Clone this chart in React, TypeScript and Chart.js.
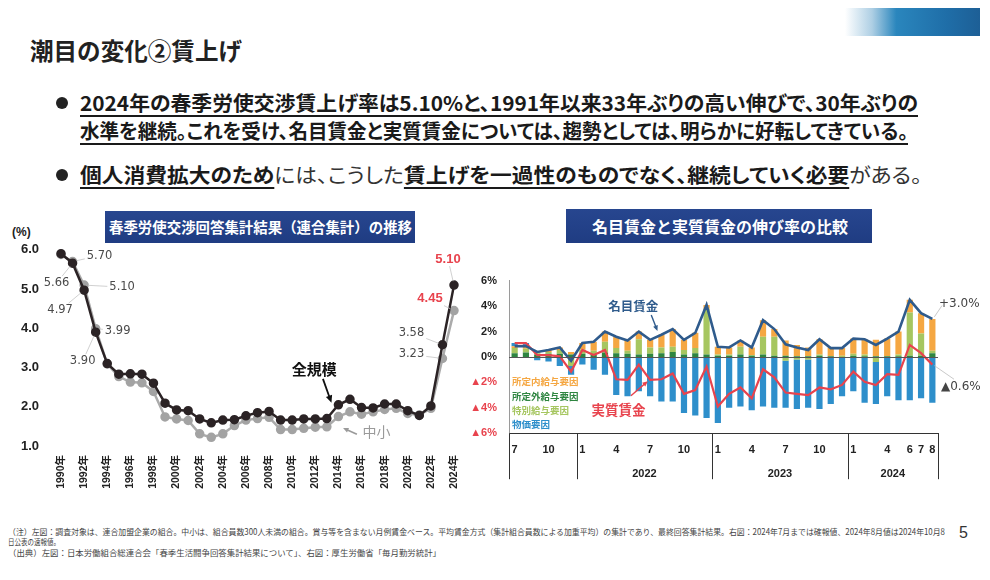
import React, { useEffect, useLayoutEffect, useRef } from 'react';
import { Chart, registerables } from 'chart.js';

Chart.register(...registerables);

const LATIN = '"Liberation Sans", "DejaVu Sans", "Noto Sans CJK JP", sans-serif';
const JP = '"Noto Sans CJK JP", "Noto Sans", sans-serif';
const DJ = '"DejaVu Sans", "Noto Sans CJK JP", sans-serif';
Chart.defaults.font.family = LATIN;

// ---------- Left chart data (春季労使交渉 賃上げ率, %) ----------
const years = [
  1990, 1991, 1992, 1993, 1994, 1995, 1996, 1997, 1998, 1999,
  2000, 2001, 2002, 2003, 2004, 2005, 2006, 2007, 2008, 2009,
  2010, 2011, 2012, 2013, 2014, 2015, 2016, 2017, 2018, 2019,
  2020, 2021, 2022, 2023, 2024,
];
const allSizeRates = [
  5.9, 5.66, 4.97, 3.9, 3.1, 2.83, 2.84, 2.83, 2.6, 2.09,
  1.92, 1.9, 1.69, 1.59, 1.66, 1.67, 1.77, 1.85, 1.88, 1.66,
  1.66, 1.69, 1.69, 1.7, 2.05, 2.19, 1.98, 1.97, 2.07, 2.07,
  1.9, 1.78, 2.02, 3.58, 5.1,
];
const smeRates = [
  5.88, 5.7, 5.1, 3.99, 3.09, 2.77, 2.63, 2.61, 2.39, 1.74,
  1.69, 1.65, 1.31, 1.22, 1.31, 1.52, 1.66, 1.7, 1.73, 1.42,
  1.42, 1.45, 1.48, 1.49, 1.75, 1.87, 1.81, 1.87, 1.93, 1.96,
  1.83, 1.79, 1.96, 3.23, 4.45,
];

// ---------- Right chart data (前年同月比, %) ----------
const months = [
  '2021/7', '2021/8', '2021/9', '2021/10', '2021/11', '2021/12',
  '2022/1', '2022/2', '2022/3', '2022/4', '2022/5', '2022/6',
  '2022/7', '2022/8', '2022/9', '2022/10', '2022/11', '2022/12',
  '2023/1', '2023/2', '2023/3', '2023/4', '2023/5', '2023/6',
  '2023/7', '2023/8', '2023/9', '2023/10', '2023/11', '2023/12',
  '2024/1', '2024/2', '2024/3', '2024/4', '2024/5', '2024/6',
  '2024/7', '2024/8',
];
const monthTickLabels = [
  '7', '', '', '10', '', '',
  '1', '', '', '4', '', '', '7', '', '', '10', '', '',
  '1', '', '', '4', '', '', '7', '', '', '10', '', '',
  '1', '', '', '4', '', '6', '7', '8',
];
const yearLabels = ['', '2022', '2023', '2024'];
const nominalWage = [
  0.85, 0.85, 0.4, 0.55, 0.75, -0.3, 1.1, 1.2, 2.0, 1.6, 1.3, 2.0,
  1.35, 1.75, 2.2, 1.35, 1.9, 4.1, 0.8, 0.75, 1.3, 0.75, 2.9, 2.2,
  1.0, 0.75, 0.55, 1.4, 0.7, 0.7, 1.45, 1.4, 0.95, 1.45, 2.0, 4.5,
  3.45, 3.0,
];
const realWage = [
  1.1, 1.1, 0.15, 0.15, 0.05, -1.15, 0.55, 0.15, 0.55, -1.75, -1.8, -0.6,
  -1.8, -1.75, -1.3, -2.9, -2.6, -0.75, -3.9, -2.9, -2.4, -3.25, -0.97, -1.6,
  -2.8, -2.9, -3.0, -2.4, -2.55, -2.2, -1.15, -1.95, -2.2, -1.35, -1.4, 0.95,
  0.3, -0.6,
];
const scheduledFactor = [
  0.15, 0.2, 0.1, 0.15, 0.2, 0.2, 0.5, 0.7, 0.8, 0.9, 0.8, 0.6,
  0.6, 1.0, 1.4, 0.8, 1.2, 0.3, 0.6, 0.55, 0.5, 0.6, 1.3, 0.6,
  1.2, 0.9, 0.7, 1.2, 0.7, 0.6, 1.2, 1.2, 1.3, 1.4, 1.8, 1.0,
  1.6, 2.5,
];
const overtimeFactor = [
  0.3, 0.35, 0.2, 0.25, 0.25, 0.2, 0.25, 0.2, 0.35, 0.3, 0.25, 0.2,
  0.25, 0.3, 0.4, 0.2, 0.3, 0.2, 0.1, 0.1, 0.2, 0.1, 0.2, 0.1,
  0.1, 0.05, 0.05, 0.1, 0.05, 0.0, 0.1, 0.05, 0.05, 0.05, 0.05, 0.1,
  0.1, 0.3,
];
const specialFactor = [
  0.4, 0.3, 0.1, 0.15, 0.3, -0.7, 0.35, 0.3, 0.85, 0.4, 0.25, 1.2,
  0.5, 0.45, 0.4, 0.35, 0.4, 3.6, 0.1, 0.1, 0.6, 0.05, 1.4, 1.5,
  -0.3, -0.2, -0.2, 0.1, -0.05, 0.1, 0.15, 0.15, -0.4, 0.0, 0.15, 3.4,
  1.75, 0.2,
];
const priceFactor = [
  0.25, 0.25, -0.25, -0.35, -0.7, -0.7, -0.6, -1.0, -1.4, -3.0, -3.1, -2.7,
  -3.1, -3.5, -3.5, -4.4, -4.6, -4.8, -5.2, -4.0, -3.9, -4.2, -3.9, -4.0,
  -3.7, -3.9, -3.8, -4.1, -3.65, -3.1, -2.7, -3.6, -3.3, -3.1, -3.4, -3.4,
  -3.25, -3.6,
];

const C_ORANGE = '#F5A742';
const C_DKGREEN = '#2E8540';
const C_LTGREEN = '#A6C660';
const C_BLUE = '#2E8FCB';
const C_NOMINAL = '#2F5B8C';
const C_REAL = '#E8434D';

function drawArrow(ctx: CanvasRenderingContext2D, x1: number, y1: number, x2: number, y2: number, color: string, width = 1.6, head = 7) {
  const ang = Math.atan2(y2 - y1, x2 - x1);
  ctx.save();
  ctx.strokeStyle = color;
  ctx.fillStyle = color;
  ctx.lineWidth = width;
  ctx.beginPath();
  ctx.moveTo(x1, y1);
  ctx.lineTo(x2 - Math.cos(ang) * head * 0.7, y2 - Math.sin(ang) * head * 0.7);
  ctx.stroke();
  ctx.beginPath();
  ctx.moveTo(x2, y2);
  ctx.lineTo(x2 - head * Math.cos(ang - 0.42), y2 - head * Math.sin(ang - 0.42));
  ctx.lineTo(x2 - head * Math.cos(ang + 0.42), y2 - head * Math.sin(ang + 0.42));
  ctx.closePath();
  ctx.fill();
  ctx.restore();
}

const leftValueLabels = [
  { series: 'sme', year: 1991, dx: 27, dy: -6, red: false },
  { series: 'all', year: 1991, dx: -16, dy: 20, red: false },
  { series: 'sme', year: 1992, dx: 38, dy: 2, red: false },
  { series: 'all', year: 1992, dx: -24, dy: 20, red: false },
  { series: 'sme', year: 1993, dx: 22, dy: 2, red: false },
  { series: 'all', year: 1993, dx: -13, dy: 29, red: false },
  { series: 'all', year: 2023, dx: -31, dy: -12, red: false },
  { series: 'sme', year: 2023, dx: -31, dy: -4, red: false },
  { series: 'all', year: 2024, dx: -6, dy: -26, red: true },
  { series: 'sme', year: 2024, dx: -24, dy: -12, red: true },
];

function LeftChart() {
  const ref = useRef<HTMLCanvasElement>(null);
  useEffect(() => {
    const series: Record<string, number[]> = { all: allSizeRates, sme: smeRates };
    const anno = {
      id: 'leftAnno',
      afterDatasetsDraw(chart: any) {
        const { ctx, scales } = chart;
        const x = scales.x, y = scales.y;
        ctx.save();
        for (const lb of leftValueLabels) {
          const i = years.indexOf(lb.year);
          const v = series[lb.series][i];
          const px = x.getPixelForValue(lb.year), py = y.getPixelForValue(v);
          const cx = px + lb.dx, cy = py + lb.dy;
          const text = v.toFixed(2);
          ctx.font = lb.red ? `bold 13px ${LATIN}` : `11.5px ${DJ}`;
          const w = ctx.measureText(text).width;
          const hw = w / 2 + 2, hh = 7;
          const ddx = px - cx, ddy = py - cy;
          const len = Math.hypot(ddx, ddy);
          const t = Math.min(Math.abs(ddx) > 0.01 ? hw / Math.abs(ddx) : 99, Math.abs(ddy) > 0.01 ? hh / Math.abs(ddy) : 99);
          if (t < 1) {
            ctx.strokeStyle = '#c4c4c4';
            ctx.lineWidth = 0.8;
            ctx.beginPath();
            ctx.moveTo(cx + ddx * t, cy + ddy * t);
            ctx.lineTo(px - (ddx / len) * 4, py - (ddy / len) * 4);
            ctx.stroke();
          }
          ctx.fillStyle = lb.red ? '#E8434D' : '#4a4a4a';
          ctx.textAlign = 'center';
          ctx.textBaseline = 'middle';
          ctx.fillText(text, cx, cy);
        }
        // 全規模
        ctx.font = `bold 15px ${JP}`;
        ctx.fillStyle = '#111';
        ctx.textAlign = 'center';
        ctx.textBaseline = 'middle';
        ctx.fillText('全規模', x.getPixelForValue(2011.9), y.getPixelForValue(2.96));
        drawArrow(ctx, x.getPixelForValue(2012.66), y.getPixelForValue(2.71), x.getPixelForValue(2013.4), y.getPixelForValue(2.1), '#111', 1.8, 8);
        // 中小
        ctx.font = `14px ${JP}`;
        ctx.fillStyle = '#9a9a9a';
        ctx.fillText('中小', x.getPixelForValue(2017.3), y.getPixelForValue(1.36));
        drawArrow(ctx, x.getPixelForValue(2015.6), y.getPixelForValue(1.3), x.getPixelForValue(2014.4), y.getPixelForValue(1.46), '#9a9a9a', 1.6, 6);
        ctx.restore();
      },
    };
    const chart = new Chart(ref.current!, {
      type: 'line',
      data: {
        datasets: [
          {
            label: '全規模',
            data: years.map((yr, i) => ({ x: yr, y: allSizeRates[i] })),
            borderColor: '#2b2325',
            backgroundColor: '#2b2325',
            pointBackgroundColor: '#2b2325',
            pointBorderColor: '#2b2325',
            borderWidth: 2.5,
            pointRadius: 3.5,
            tension: 0,
            clip: 10,
          } as any,
          {
            label: '中小',
            data: years.map((yr, i) => ({ x: yr, y: smeRates[i] })),
            borderColor: '#ababab',
            backgroundColor: '#a3a3a3',
            pointBackgroundColor: '#a3a3a3',
            pointBorderColor: '#a3a3a3',
            borderWidth: 2.5,
            pointRadius: 3.5,
            tension: 0,
            clip: 10,
          } as any,
        ],
      },
      options: {
        responsive: false,
        animation: false,
        layout: { padding: { left: 0, right: 22, top: 0, bottom: 0 } },
        plugins: { legend: { display: false }, tooltip: { enabled: false } },
        scales: {
          x: {
            type: 'linear',
            min: 1990,
            max: 2024,
            grid: { display: false, drawTicks: false },
            border: { display: false },
            ticks: {
              stepSize: 2,
              autoSkip: false,
              minRotation: 90,
              maxRotation: 90,
              padding: 9,
              color: '#222',
              font: { size: 10.5, weight: 'bold' },
              callback: (v: any) => `${v}年`,
            },
            afterFit: (s: any) => { s.height = 64; },
          },
          y: {
            min: 1,
            max: 6,
            grid: { display: false, drawTicks: false },
            border: { display: false },
            ticks: {
              stepSize: 1,
              padding: 22,
              color: '#222',
              font: { size: 13, weight: 'bold' },
              callback: (v: any) => Number(v).toFixed(1),
            },
            afterFit: (s: any) => { s.width = 61; },
          },
        },
      } as any,
      plugins: [anno],
    });
    return () => chart.destroy();
  }, []);
  return (
    <canvas ref={ref} width={476} height={290}
      style={{ position: 'absolute', left: 0, top: 220, width: 476, height: 290 }} />
  );
}

function RightChart() {
  const ref = useRef<HTMLCanvasElement>(null);
  useEffect(() => {
    const anno = {
      id: 'rightAnno',
      afterDatasetsDraw(chart: any) {
        const { ctx, chartArea, scales } = chart;
        const x = scales.x, y = scales.y;
        ctx.save();
        // zero line
        const y0 = Math.round(y.getPixelForValue(0)) + 0.5;
        ctx.strokeStyle = '#555';
        ctx.lineWidth = 1;
        ctx.beginPath();
        ctx.moveTo(chartArea.left, y0);
        ctx.lineTo(chartArea.right, y0);
        ctx.stroke();

        // year groups
        const groups: { s: number; e: number }[] = [];
        months.forEach((m, i) => {
          const yr = m.split('/')[0];
          if (i === 0 || months[i - 1].split('/')[0] !== yr) groups.push({ s: i, e: i });
          else groups[groups.length - 1].e = i;
        });
        const bottom = chartArea.bottom;
        ctx.strokeStyle = '#333';
        ctx.lineWidth = 1;
        const bounds: number[] = [];
        groups.forEach((g, gi) => {
          const l = g.s === 0 ? chartArea.left : (x.getPixelForValue(g.s - 1) + x.getPixelForValue(g.s)) / 2;
          const r = g.e === months.length - 1 ? chartArea.right : (x.getPixelForValue(g.e) + x.getPixelForValue(g.e + 1)) / 2;
          bounds.push(l);
          if (gi === groups.length - 1) bounds.push(r);
          ctx.fillStyle = '#222';
          ctx.font = `bold 11px ${LATIN}`;
          ctx.textAlign = 'center';
          ctx.textBaseline = 'middle';
          ctx.fillText(yearLabels[gi] || '', (l + r) / 2, bottom + 41);
        });
        bounds.forEach((b) => {
          const bx = Math.round(b) + 0.5;
          ctx.beginPath();
          ctx.moveTo(bx, bottom);
          ctx.lineTo(bx, bottom + 46);
          ctx.stroke();
        });

        // series annotations
        ctx.textAlign = 'center';
        ctx.textBaseline = 'middle';
        ctx.font = `bold 12.5px ${JP}`;
        ctx.fillStyle = C_NOMINAL;
        ctx.fillText('名目賃金', x.getPixelForValue(10.5), y.getPixelForValue(4.0));
        drawArrow(ctx, x.getPixelForValue(12.1), y.getPixelForValue(3.3), x.getPixelForValue(12.65), y.getPixelForValue(2.05), C_NOMINAL, 1.4, 6);
        ctx.font = `bold 13.5px ${JP}`;
        ctx.fillStyle = C_REAL;
        ctx.fillText('実質賃金', x.getPixelForValue(9.2), y.getPixelForValue(-4.15));
        drawArrow(ctx, x.getPixelForValue(10.3), y.getPixelForValue(-3.05), x.getPixelForValue(11.8), y.getPixelForValue(-1.9), C_REAL, 1.4, 6);

        // legend texts
        const legendItems = [
          { t: '所定内給与要因', c: C_ORANGE, v: -1.95 },
          { t: '所定外給与要因', c: C_DKGREEN, v: -3.1 },
          { t: '特別給与要因', c: C_LTGREEN, v: -4.2 },
          { t: '物価要因', c: C_BLUE, v: -5.3 },
        ];
        ctx.textAlign = 'left';
        ctx.font = `bold 9.5px ${JP}`;
        legendItems.forEach((it) => {
          ctx.fillStyle = it.c;
          ctx.fillText(it.t, chartArea.left + 3, y.getPixelForValue(it.v));
        });

        // end labels
        const last = months.length - 1;
        const lx = x.getPixelForValue(last);
        ctx.strokeStyle = '#bbbbbb';
        ctx.lineWidth = 0.8;
        ctx.beginPath();
        ctx.moveTo(lx + 2, y.getPixelForValue(nominalWage[last]) - 2);
        ctx.lineTo(chartArea.right + 4, y.getPixelForValue(4.05));
        ctx.moveTo(lx + 2, y.getPixelForValue(realWage[last]) + 1);
        ctx.lineTo(chartArea.right + 16, y.getPixelForValue(-1.75));
        ctx.stroke();
        ctx.font = `12px ${DJ}`;
        ctx.fillStyle = '#444';
        ctx.textBaseline = 'middle';
        ctx.fillText(`+${nominalWage[last].toFixed(1)}%`, chartArea.right + 1, y.getPixelForValue(4.2));
        ctx.fillText(`▲${Math.abs(realWage[last]).toFixed(1)}%`, chartArea.right + 3, y.getPixelForValue(-2.35));
        ctx.restore();
      },
    };
    const chart = new Chart(ref.current!, {
      type: 'bar',
      data: {
        labels: months,
        datasets: [
          { type: 'line', label: '名目賃金', data: nominalWage, borderColor: C_NOMINAL, backgroundColor: C_NOMINAL, borderWidth: 2.6, pointRadius: 0, tension: 0, order: 0, stack: 'nominal' } as any,
          { type: 'line', label: '実質賃金', data: realWage, borderColor: C_REAL, backgroundColor: C_REAL, borderWidth: 2.2, pointRadius: 0, tension: 0, order: 0, stack: 'real' } as any,
          { label: '所定外給与要因', data: overtimeFactor, backgroundColor: C_DKGREEN, order: 1, stack: 'bars', barPercentage: 0.55, categoryPercentage: 1 } as any,
          { label: '特別給与要因', data: specialFactor, backgroundColor: C_LTGREEN, order: 2, stack: 'bars', barPercentage: 0.55, categoryPercentage: 1 } as any,
          { label: '所定内給与要因', data: scheduledFactor, backgroundColor: C_ORANGE, order: 3, stack: 'bars', barPercentage: 0.55, categoryPercentage: 1 } as any,
          { label: '物価要因', data: priceFactor, backgroundColor: C_BLUE, order: 4, stack: 'bars', barPercentage: 0.55, categoryPercentage: 1 } as any,
        ],
      },
      options: {
        responsive: false,
        animation: false,
        layout: { padding: { left: 0, right: 52, top: 18.8, bottom: 0 } },
        plugins: { legend: { display: false }, tooltip: { enabled: false } },
        scales: {
          x: {
            stacked: true,
            offset: true,
            grid: { display: false, drawTicks: false },
            border: { display: true, color: '#333', width: 1 },
            ticks: {
              autoSkip: false,
              maxRotation: 0,
              minRotation: 0,
              padding: 10,
              color: '#222',
              font: { size: 11, weight: 'bold' },
              callback: (_v: any, i: number) => monthTickLabels[i],
            },
            afterFit: (s: any) => { s.height = 56.8; },
          },
          y: {
            stacked: true,
            min: -6,
            max: 6,
            grid: { display: false, drawTicks: false },
            border: { display: true, color: '#9a9a9a', width: 1 },
            ticks: {
              stepSize: 2,
              padding: 12,
              font: { size: 11, weight: 'bold' },
              color: (c: any) => (c.tick && c.tick.value < 0 ? '#E8434D' : '#222'),
              callback: (v: any) => (v > 0 ? `${v}%` : v < 0 ? `▲${-v}%` : '0%'),
            },
            afterFit: (s: any) => { s.width = 49; },
          },
        },
      } as any,
      plugins: [anno],
    });
    return () => chart.destroy();
  }, []);
  return (
    <canvas ref={ref} width={530} height={228}
      style={{ position: 'absolute', left: 460, top: 262, width: 530, height: 228 }} />
  );
}

function Fit({ x, y, w, h = 20, style, children }: any) {
  const ref = useRef<HTMLDivElement>(null);
  useLayoutEffect(() => {
    const el = ref.current;
    if (!el) return;
    const apply = () => {
      el.style.transform = 'none';
      const nat = el.getBoundingClientRect().width;
      if (nat > 0) el.style.transform = `scaleX(${w / nat})`;
    };
    apply();
    const f: any = (document as any).fonts;
    if (f && f.ready) f.ready.then(apply);
  }, [w]);
  return (
    <div ref={ref} style={{
      position: 'absolute', left: x, top: y - h / 2, height: h, lineHeight: `${h}px`,
      whiteSpace: 'nowrap', transformOrigin: '0 50%', ...style,
    }}>{children}</div>
  );
}

export default function App() {
  const bold = { fontWeight: 700, textDecoration: 'underline', textDecorationThickness: '2px', textUnderlineOffset: '4px', color: '#1a1a1a' } as any;
  const normal = { fontWeight: 400, color: '#333', textDecoration: 'none' } as any;
  const bodyFont = { fontFamily: JP, fontSize: 20, fontFeatureSettings: '"palt"' } as any;
  return (
    <div style={{ position: 'fixed', left: 0, top: 0, width: 990, height: 580, background: '#fff', overflow: 'hidden', fontFamily: JP, color: '#222' }}>
      <div style={{ position: 'absolute', left: 845, top: 8, width: 135, height: 28, background: 'linear-gradient(90deg, rgba(255,255,255,0) 0%, rgba(120,175,210,0.6) 20%, #2a86bd 38%, #1f6ea8 75%, #1d5f96 100%)' }} />
      <Fit x={30} y={50} w={212} h={30} style={{ fontSize: 24, fontWeight: 700, color: '#222' }}>潮目の変化②賃上げ</Fit>

      <div style={{ position: 'absolute', left: 56, top: 97, width: 12, height: 12, borderRadius: 6, background: '#222' }} />
      <Fit x={80} y={103} w={838} h={26} style={bodyFont}>
        <span style={bold}>2024年の春季労使交渉賃上げ率は5.10%と、1991年以来33年ぶりの高い伸びで、30年ぶりの</span>
      </Fit>
      <Fit x={80} y={131} w={828} h={26} style={bodyFont}>
        <span style={bold}>水準を継続。これを受け、名目賃金と実質賃金については、趨勢としては、明らかに好転してきている。</span>
      </Fit>
      <div style={{ position: 'absolute', left: 56, top: 169, width: 12, height: 12, borderRadius: 6, background: '#222' }} />
      <Fit x={80} y={175} w={842} h={26} style={bodyFont}>
        <span style={bold}>個人消費拡大のため</span><span style={normal}>には、こうした</span><span style={bold}>賃上げを一過性のものでなく、継続していく必要</span><span style={normal}>がある。</span>
      </Fit>

      <div style={{ position: 'absolute', left: 105, top: 211, width: 310, height: 32, background: 'linear-gradient(180deg, #27468f 0%, #1f3c82 100%)' }} />
      <Fit x={109} y={227} w={303} h={20} style={{ fontSize: 14.5, fontWeight: 700, color: '#fff' }}>春季労使交渉回答集計結果（連合集計）の推移</Fit>
      <div style={{ position: 'absolute', left: 12, top: 225, fontFamily: LATIN, fontSize: 12, fontWeight: 700, color: '#222', lineHeight: '14px' }}>(%)</div>

      <div style={{ position: 'absolute', left: 566, top: 209, width: 306, height: 34, background: 'linear-gradient(180deg, #27468f 0%, #1f3c82 100%)' }} />
      <Fit x={592} y={226} w={256} h={22} style={{ fontSize: 16, fontWeight: 700, color: '#fff' }}>名目賃金と実質賃金の伸び率の比較</Fit>

      <LeftChart />
      <RightChart />

      <Fit x={8} y={531} w={937} h={12} style={{ fontSize: 8.5, color: '#444' }}>（注）左図：調査対象は、連合加盟企業の組合。中小は、組合員数300人未満の組合。賞与等を含まない月例賃金ベース。平均賃金方式（集計組合員数による加重平均）の集計であり、最終回答集計結果。右図：2024年7月までは確報値、2024年8月値は2024年10月8</Fit>
      <Fit x={8} y={541} w={52} h={12} style={{ fontSize: 8.5, color: '#444' }}>日公表の速報値。</Fit>
      <Fit x={8} y={552} w={433} h={12} style={{ fontSize: 8.5, color: '#444' }}>（出典）左図：日本労働組合総連合会「春季生活闘争回答集計結果について」、右図：厚生労働省「毎月勤労統計」</Fit>
      <div style={{ position: 'absolute', left: 959, top: 523, fontFamily: LATIN, fontSize: 16, color: '#333', lineHeight: '20px' }}>5</div>
    </div>
  );
}
